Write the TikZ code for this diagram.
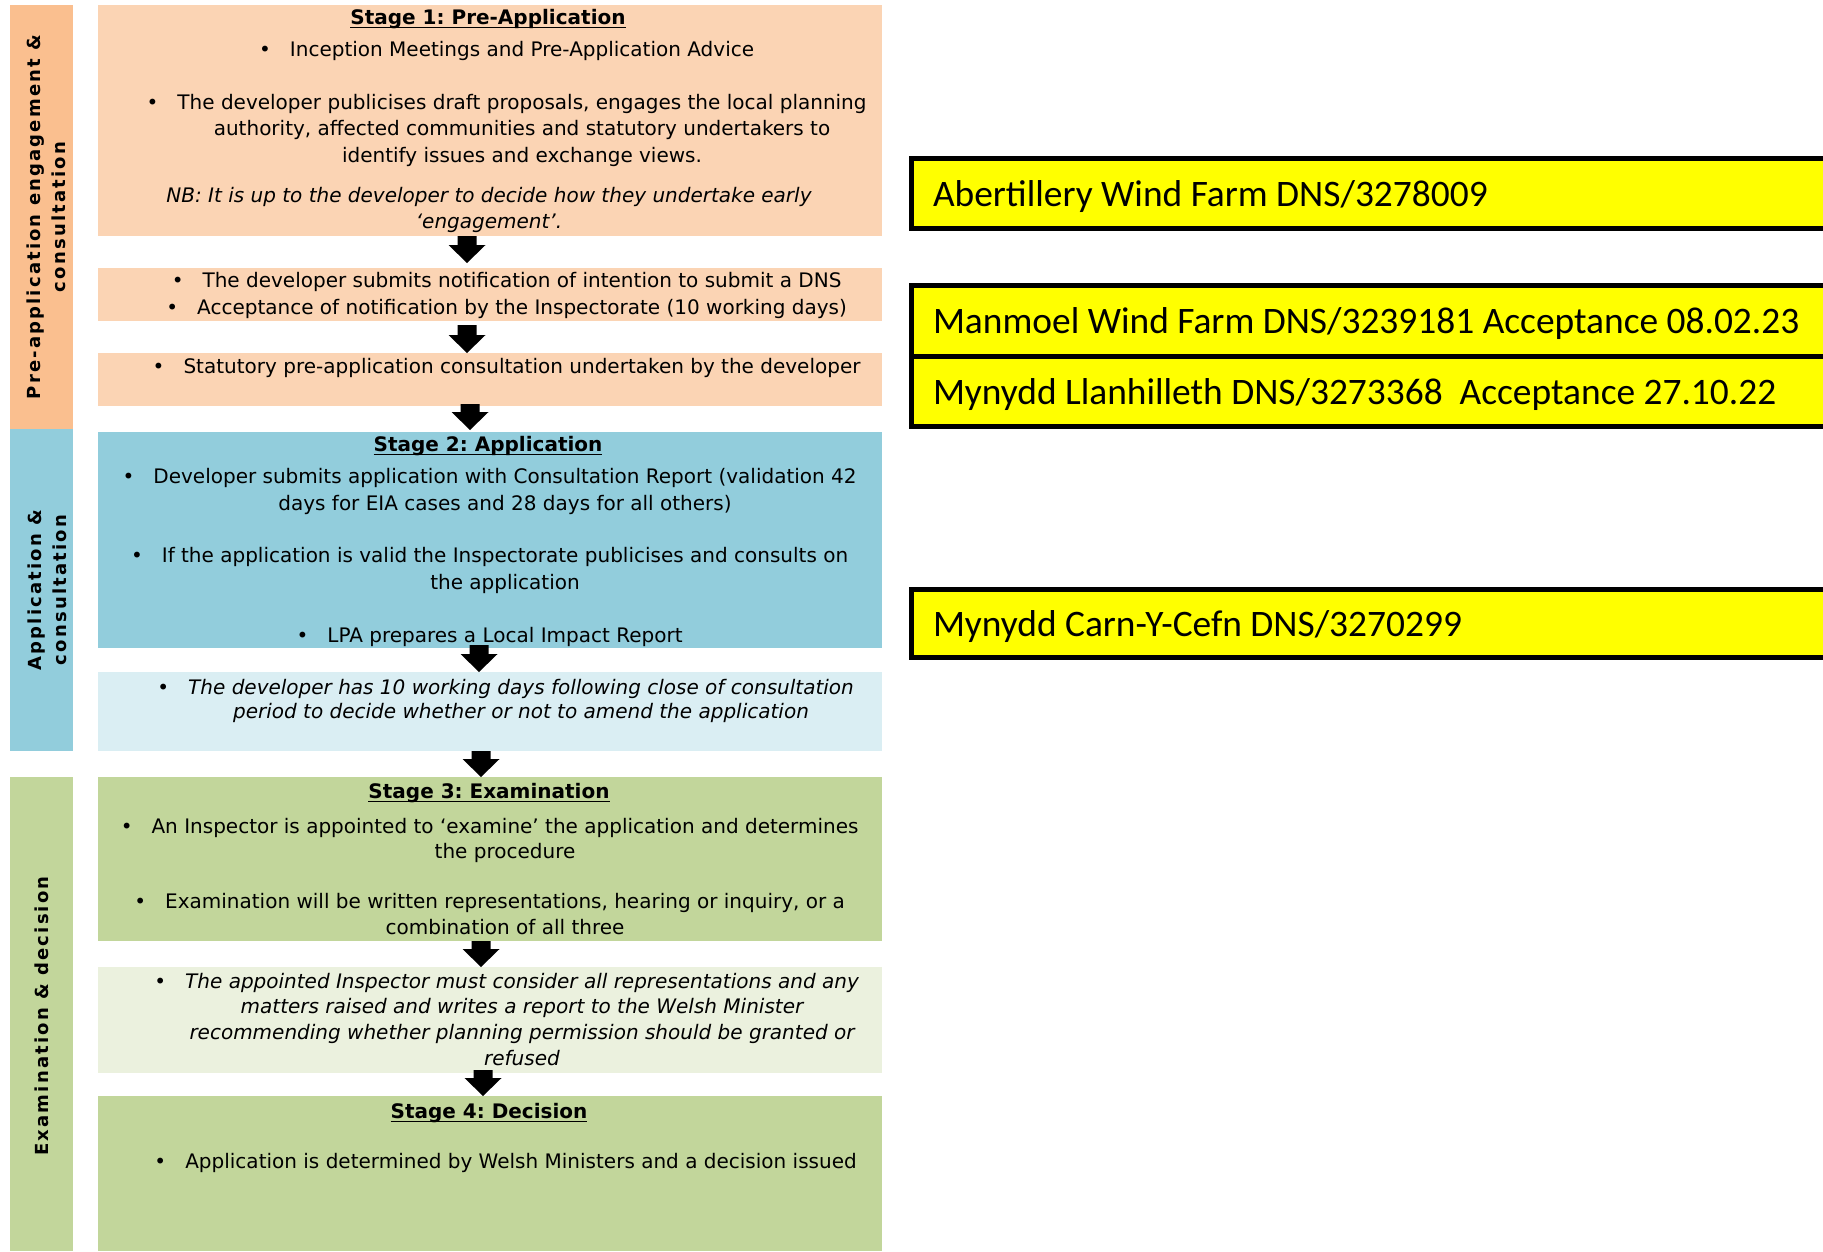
\documentclass[tikz,border=0pt]{standalone}
\usepackage{fontspec}
\setmainfont{DejaVu Sans}
\newfontfamily\carlfont{Carlito}
\newfontfamily\vlabfont{DejaVu Sans Bold}[LetterSpace=12]
\usetikzlibrary{calc}
\frenchspacing
\definecolor{peach}{HTML}{FBD4B4}
\definecolor{orangebar}{HTML}{FABF8F}
\definecolor{bluebox}{HTML}{92CDDC}
\definecolor{lightblue}{HTML}{DAEEF3}
\definecolor{greenbox}{HTML}{C2D69B}
\definecolor{lightgreen}{HTML}{EBF1DE}
\definecolor{yel}{HTML}{FFFF00}
\newcommand\mybul{\llap{\upshape\textbullet\hspace{19bp}}}
\newcommand\blockarr[2]{%
  \fill[black] ($(#1)+(-9.5,0)$) -- ($(#1)+(9.5,0)$) -- ($(#2)+(9.5,-18)$)
    -- ($(#2)+(18.5,-18)$) -- (#2) -- ($(#2)+(-18.5,-18)$) -- ($(#2)+(-9.5,-18)$) -- cycle;}
\begin{document}
\begin{tikzpicture}[x=1bp,y=-1bp,
  every node/.style={outer sep=0pt},
  panel/.style={draw=none, inner sep=0pt, minimum width=784bp, anchor=north west},
  sidebar/.style={draw=none, inner sep=0pt, minimum width=63bp, anchor=north west},
  body/.style={inner sep=0pt, align=center, font=\fontsize{20bp}{26.5bp}\selectfont,
    execute at begin node=\strut, execute at end node=\strut},
  ttl/.style={inner sep=0pt, anchor=base, font=\fontsize{20bp}{26bp}\selectfont\bfseries},
  ulin/.style={line width=1.8bp},
  vlab/.style={inner sep=0pt, rotate=90, align=center, font=\vlabfont\fontsize{18bp}{25bp}\selectfont},
  ybox/.style={draw=black, line width=5bp, fill=yel, inner sep=0pt, minimum width=928.5bp, anchor=north west},
  ytext/.style={inner sep=0pt, anchor=base west, font=\carlfont\fontsize{37.4bp}{44bp}\selectfont}
]
\useasboundingbox (0,0) rectangle (1823,1251);

% left side bars
\node[sidebar, fill=orangebar, minimum height=424bp] (l1) at (10,5) {};
\node[sidebar, fill=bluebox, minimum height=322bp] (l2) at (10,429) {};
\node[sidebar, fill=greenbox, minimum height=474bp] (l3) at (10,777) {};
\node[vlab] (v1) at (46.5,217) {Pre-application engagement \&\\consultation};
\node[vlab] (v2) at (47,590) {Application \&\\consultation};
\node[vlab] (v3) at (41.5,1016) {Examination \& decision};

% main panels
\node[panel, fill=peach, minimum height=231bp] (b1) at (98,5) {};
\node[panel, fill=peach, minimum height=53bp] (b2) at (98,268) {};
\node[panel, fill=peach, minimum height=53bp] (b3) at (98,353) {};
\node[panel, fill=bluebox, minimum height=216bp] (b4) at (98,432) {};
\node[panel, fill=lightblue, minimum height=79bp] (b5) at (98,672) {};
\node[panel, fill=greenbox, minimum height=164bp] (b6) at (98,777) {};
\node[panel, fill=lightgreen, minimum height=106bp] (b7) at (98,967) {};
\node[panel, fill=greenbox, minimum height=155bp] (b8) at (98,1096) {};

% stage 1
\node[ttl] (t1) at (488,24) {Stage 1: Pre-Application};
\draw[ulin] ([yshift=-3.5bp]t1.base west) -- ([yshift=-3.5bp]t1.base east);
\node[body] (p1a) at (522,51.5) {\mybul Inception Meetings and Pre-Application Advice};
\node[body] (p1b) at (522,132) {\mybul The developer publicises draft proposals, engages the local planning\\authority, affected communities and statutory undertakers to\\identify issues and exchange views.};
\node[body, font=\fontsize{20bp}{25.5bp}\selectfont\itshape] (p1c) at (489,211.5) {NB: It is up to the developer to decide how they undertake early\\‘engagement’.};
\node[body, font=\fontsize{20bp}{27bp}\selectfont] (p2) at (522,297) {\mybul The developer submits notification of intention to submit a DNS\\\mybul Acceptance of notification by the Inspectorate (10 working days)};
\node[body] (p3) at (522,368) {\mybul Statutory pre-application consultation undertaken by the developer};

% stage 2
\node[ttl] (t2) at (488,451) {Stage 2: Application};
\draw[ulin] ([yshift=-3.5bp]t2.base west) -- ([yshift=-3.5bp]t2.base east);
\node[body] (p4a) at (505,493.5) {\mybul Developer submits application with Consultation Report (validation 42\\days for EIA cases and 28 days for all others)};
\node[body] (p4b) at (505,572.5) {\mybul If the application is valid the Inspectorate publicises and consults on\\the application};
\node[body] (p4c) at (505,637.5) {\mybul LPA prepares a Local Impact Report};
\node[body, font=\fontsize{20bp}{24.5bp}\selectfont\itshape] (p5) at (521,702.5) {\mybul The developer has 10 working days following close of consultation\\period to decide whether or not to amend the application};

% stage 3
\node[ttl] (t3) at (489,798) {Stage 3: Examination};
\draw[ulin] ([yshift=-3.5bp]t3.base west) -- ([yshift=-3.5bp]t3.base east);
\node[body, font=\fontsize{20bp}{25.5bp}\selectfont] (p6a) at (505,842) {\mybul An Inspector is appointed to ‘examine’ the application and determines\\the procedure};
\node[body, font=\fontsize{20bp}{26bp}\selectfont] (p6b) at (505,917.5) {\mybul Examination will be written representations, hearing or inquiry, or a\\combination of all three};
\node[body, font=\fontsize{20bp}{25.8bp}\selectfont\itshape] (p7) at (522,1023) {\mybul The appointed Inspector must consider all representations and any\\matters raised and writes a report to the Welsh Minister\\recommending whether planning permission should be granted or\\refused};

% stage 4
\node[ttl] (t4) at (489,1118) {Stage 4: Decision};
\draw[ulin] ([yshift=-3.5bp]t4.base west) -- ([yshift=-3.5bp]t4.base east);
\node[body] (p8) at (521,1163.5) {\mybul Application is determined by Welsh Ministers and a decision issued};

% arrows
\coordinate (a1s) at ([xshift=-23bp]b1.south);
\coordinate (a1e) at ([xshift=-23bp,yshift=5bp]b2.north);
\coordinate (a2s) at ([xshift=-23bp,yshift=-4bp]b2.south);
\coordinate (a2e) at ([xshift=-23bp]b3.north);
\coordinate (a3s) at ([xshift=-20bp,yshift=2bp]b3.south);
\coordinate (a3e) at ([xshift=-20bp,yshift=2bp]b4.north);
\coordinate (a4s) at ([xshift=-11bp,yshift=3bp]b4.south);
\coordinate (a4e) at ([xshift=-11bp]b5.north);
\coordinate (a5s) at ([xshift=-9bp]b5.south);
\coordinate (a5e) at ([xshift=-9bp]b6.north);
\coordinate (a6s) at ([xshift=-9bp]b6.south);
\coordinate (a6e) at ([xshift=-9bp]b7.north);
\coordinate (a7s) at ([xshift=-7bp,yshift=3bp]b7.south);
\coordinate (a7e) at ([xshift=-7bp]b8.north);
\blockarr{a1s}{a1e}
\blockarr{a2s}{a2e}
\blockarr{a3s}{a3e}
\blockarr{a4s}{a4e}
\blockarr{a5s}{a5e}
\blockarr{a6s}{a6e}
\blockarr{a7s}{a7e}

% yellow boxes
\node[ybox, minimum height=70bp] (y1) at (911.5,158.5) {};
\node[ybox, minimum height=70.5bp] (y2) at (911.5,285.5) {};
\node[ybox, minimum height=70.5bp] (y3) at (911.5,356) {};
\node[ybox, minimum height=68bp] (y4) at (911.5,589.5) {};
\node[ytext] (y1t) at ($(y1.west)+(21.5,13)$) {Abertillery Wind Farm DNS/3278009};
\node[ytext] (y2t) at ($(y2.west)+(21.5,13)$) {Manmoel Wind Farm DNS/3239181 Acceptance 08.02.23};
\node[ytext] (y3t) at ($(y3.west)+(21.5,13)$) {Mynydd Llanhilleth DNS/3273368\ \ Acceptance\ 27.10.22};
\node[ytext] (y4t) at ($(y4.west)+(21.5,13)$) {Mynydd Carn-Y-Cefn DNS/3270299};
\end{tikzpicture}
\end{document}
